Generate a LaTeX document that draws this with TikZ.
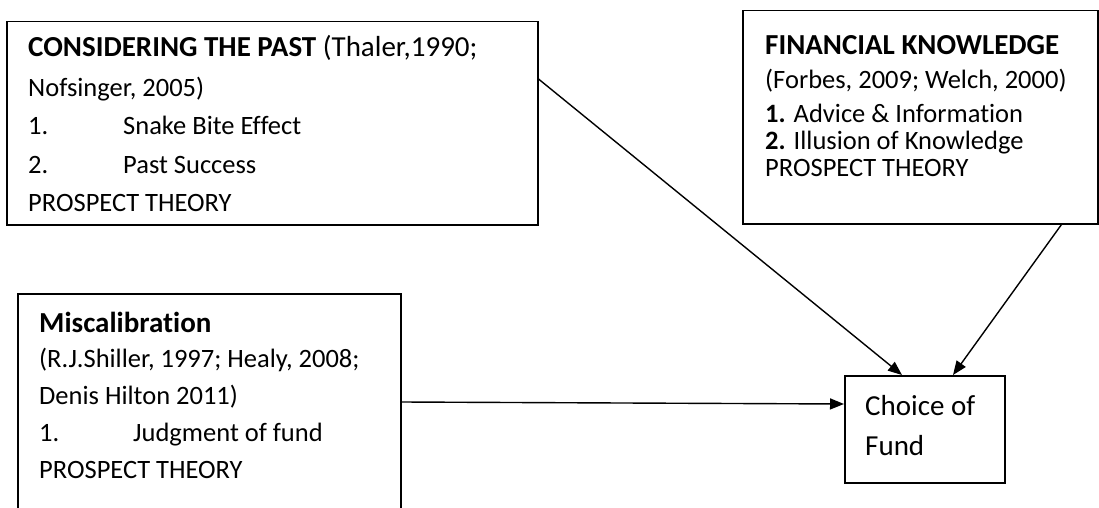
\documentclass[tikz,border=0pt]{standalone}
\usepackage{fontspec}
\setmainfont[Ligatures=NoCommon]{Carlito}
\usetikzlibrary{arrows.meta}

\begin{document}
\begin{tikzpicture}[x=1pt, y=-1pt,
    box/.style = {draw=black, line width=1.5pt, inner sep=0pt, anchor=north west},
    txt/.style = {anchor=base west, inner sep=0pt, font=\fontsize{26.5}{30}\selectfont},
    head/.style = {txt, font=\fontsize{29}{33}\selectfont},
    link/.style = {draw=black, line width=1.4pt, -{Triangle[length=14pt, width=11pt]}}]
    \clip (0,0) rectangle (1099,508);

    % boxes
    \node[box, minimum width=531pt, minimum height=203pt] (past) at (6,21) {};
    \node[box, minimum width=355pt, minimum height=213pt] (know) at (742,10) {};
    \node[box, minimum width=383pt, minimum height=230pt] (misc) at (17,293) {};
    \node[box, minimum width=160pt, minimum height=107pt] (fund) at (844,375) {};

    % considering the past
    \node[head] (past1) at (28,57) {\textbf{CONSIDERING THE PAST} (Thaler,1990;};
    \node[txt] (past2) at (28,96) {Nofsinger, 2005)};
    \node[txt] (past3) at (28,135) {\makebox[95pt][l]{1.}Snake Bite Effect};
    \node[txt] (past4) at (28,173) {\makebox[95pt][l]{2.}Past Success};
    \node[txt] (past5) at (28,211) {PROSPECT THEORY};

    % financial knowledge
    \node[head] (know1) at (765,55) {\textbf{FINANCIAL KNOWLEDGE}};
    \node[txt] (know2) at (765,89) {(Forbes, 2009; Welch, 2000)};
    \node[txt] (know3) at (765,122) {\textbf{1.} Advice \& Information};
    \node[txt] (know4) at (765,149) {\textbf{2.} Illusion of Knowledge};
    \node[txt] (know5) at (765,176) {PROSPECT THEORY};

    % miscalibration
    \node[head] (misc1) at (39,332) {\textbf{Miscalibration}};
    \node[txt] (misc2) at (39,367) {(R.J.Shiller, 1997; Healy, 2008;};
    \node[txt] (misc3) at (39,404) {Denis Hilton 2011)};
    \node[txt] (misc4) at (39,441) {\makebox[94pt][l]{1.}Judgment of fund};
    \node[txt] (misc5) at (39,478) {PROSPECT THEORY};

    % choice of fund
    \node[head] (fund1) at (865,415) {Choice of};
    \node[head] (fund2) at (865,455) {Fund};

    \draw[link] ([yshift=-58pt]past.north east) -- ([xshift=58pt]fund.north west);
    \draw[link] ([xshift=-37pt]know.south east) -- ([xshift=109pt]fund.north west);
    \draw[link] ([yshift=-109pt]misc.north east) -- ([yshift=-29pt]fund.north west);
\end{tikzpicture}
\end{document}
